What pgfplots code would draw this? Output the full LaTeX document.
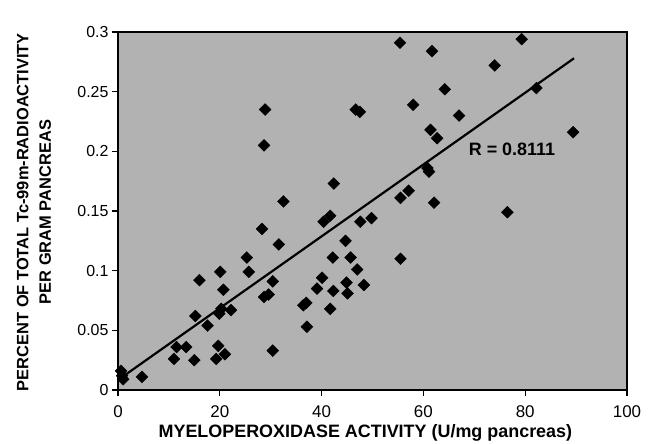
\documentclass[border=0pt]{standalone}
\usepackage{pgfplots}
\pgfplotsset{compat=1.18}
\usepackage{fontspec}
\setmainfont{Liberation Sans}
\pgfplotstableread{
x y
0.6 0.016
1.0 0.009
0.8 0.012
4.7 0.011
11.0 0.026
11.5 0.036
13.4 0.036
15.0 0.025
15.2 0.062
16.0 0.092
17.6 0.054
19.3 0.026
19.7 0.037
21.0 0.030
19.9 0.064
20.3 0.068
22.2 0.067
20.1 0.099
20.7 0.084
25.3 0.111
25.7 0.099
28.3 0.135
28.7 0.078
29.6 0.080
30.4 0.091
30.4 0.033
31.6 0.122
32.5 0.158
28.9 0.235
28.7 0.205
36.4 0.071
37.0 0.073
37.1 0.053
39.1 0.085
40.1 0.094
40.4 0.141
41.7 0.146
41.7 0.068
42.2 0.111
42.3 0.083
42.4 0.173
44.7 0.125
44.9 0.090
45.1 0.081
45.7 0.111
47.0 0.101
47.6 0.141
48.3 0.088
49.8 0.144
46.7 0.235
47.5 0.233
55.4 0.291
61.7 0.284
79.3 0.294
74.0 0.272
64.2 0.252
82.2 0.253
58.0 0.239
67.0 0.230
61.4 0.218
62.7 0.211
89.4 0.216
61.1 0.183
60.8 0.186
57.1 0.167
55.5 0.161
62.1 0.157
76.5 0.149
55.5 0.110
}\pts
\begin{document}
\begin{tikzpicture}
\path[use as bounding box] (-118bp,-54bp) rectangle (534bp,390bp);
\begin{axis}[
  at={(0,0)}, anchor=south west,
  scale only axis, width=509bp, height=358bp,
  xmin=0, xmax=100, ymin=0, ymax=0.3,
  xtick={0,20,...,100},
  ytick={0,0.05,0.1,0.15,0.2,0.25,0.3},
  yticklabels={0,0.05,0.1,0.15,0.2,0.25,0.3},
  /pgf/number format/assume math mode=true,
  axis line style={line width=1.6bp},
  tick align=outside, major tick length=6bp,
  tick style={line width=1.2bp, black},
  xtick pos=bottom, ytick pos=left,
  axis background/.style={fill=black!30},
  x tick label style={font=\fontsize{17}{17}\selectfont, yshift=-6bp},
  y tick label style={font=\fontsize{16}{16}\selectfont},
  xlabel={MYELOPEROXIDASE ACTIVITY (U/mg pancreas)},
  xlabel style={font=\bfseries\fontsize{18}{18}\selectfont, at={(axis description cs:0.486,0)}, anchor=center, yshift=-43bp},
  ylabel={PERCENT OF TOTAL Tc-99m-RADIOACTIVITY\\PER GRAM PANCREAS},
  ylabel style={font=\bfseries\fontsize{16.5}{22.5}\selectfont, align=center, at={(axis description cs:-0.165,0.497)}, anchor=center},
]
\addplot[only marks, mark=square*, mark size=4.2bp, mark options={rotate=45, fill=black, draw=black}] table[x=x,y=y] {\pts};
\addplot[black, line width=2.2bp] coordinates {(0,0.0084) (89.6,0.278)};
\node[font=\bfseries\fontsize{18}{18}\selectfont, inner sep=0pt] at (axis cs:77.4,0.2017) {R = 0.8111};
\end{axis}
\end{tikzpicture}
\end{document}
